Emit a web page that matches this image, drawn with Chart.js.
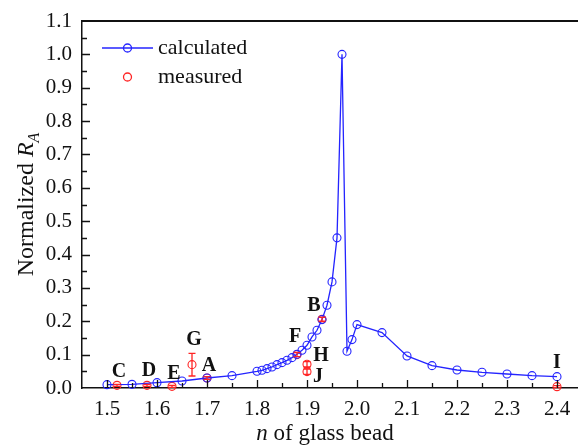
<!DOCTYPE html>
<html>
<head>
<meta charset="utf-8">
<script src="https://cdn.jsdelivr.net/npm/chart.js@4/dist/chart.umd.min.js"></script>
<style>
  html, body { margin: 0; padding: 0; background: #fff; overflow: hidden; }
  #wrap { width: 600px; height: 446px; }
</style>
</head>
<body>
<div id="wrap"><canvas id="chart" width="600" height="446"></canvas></div>
<script>
// calculated curve: refractive index of bead vs normalized R_A
const CALC_N = [1.50, 1.55, 1.60, 1.65, 1.70, 1.75, 1.80, 1.81, 1.82, 1.83, 1.84, 1.85,
                1.86, 1.87, 1.88, 1.89, 1.90, 1.91, 1.92, 1.93, 1.94, 1.95, 1.96, 1.97,
                1.98, 1.99, 2.00, 2.05, 2.10, 2.15, 2.20, 2.25, 2.30, 2.35, 2.40];
const CALC_RA = [0.010, 0.011, 0.016, 0.021, 0.030, 0.037, 0.050, 0.053, 0.058, 0.063, 0.070, 0.076,
                 0.083, 0.091, 0.101, 0.113, 0.128, 0.153, 0.173, 0.205, 0.248, 0.318, 0.450, 1.000,
                 0.110, 0.145, 0.190, 0.166, 0.096, 0.067, 0.054, 0.047, 0.042, 0.037, 0.034];

// measured samples with their error half-widths
const MEAS_LABELS = ["C", "D", "E", "G", "A", "F", "B", "H", "J", "I"];
const MEAS_N   = [1.52, 1.58, 1.63, 1.67, 1.70, 1.88, 1.93, 1.90, 1.90, 2.40];
const MEAS_RA  = [0.008, 0.008, 0.005, 0.070, 0.030, 0.100, 0.206, 0.071, 0.049, 0.004];
const MEAS_ERR = [0.003, 0.003, 0.003, 0.034, 0.004, 0.006, 0.006, 0.008, 0.008, 0.003];

const X_TICKS = [1.5, 1.6, 1.7, 1.8, 1.9, 2.0, 2.1, 2.2, 2.3, 2.4];
const Y_TICKS = [0, 0.1, 0.2, 0.3, 0.4, 0.5, 0.6, 0.7, 0.8, 0.9, 1.0, 1.1];

const BLUE = "#2424ff";
const RED = "#ff2424";
const INK = "#111111";
const SERIF = "'Liberation Serif', 'Times New Roman', serif";

// pixel nudges for the letter tags, relative to each measured point
const TAG_OFFSET = {
  C: [2, -14], D: [2, -15], E: [2, -13], G: [2, -25], A: [2, -12],
  F: [-2, -18], B: [-8, -13], H: [14, -8], J: [11, 5], I: [0, -24]
};

const decor = {
  id: "decor",
  afterDatasetsDraw(chart) {
    const ctx = chart.ctx, xs = chart.scales.x, ys = chart.scales.y;
    ctx.save();
    ctx.strokeStyle = RED;
    ctx.lineWidth = 1.3;
    MEAS_N.forEach(function (n, i) {
      const px = xs.getPixelForValue(n);
      const top = ys.getPixelForValue(MEAS_RA[i] + MEAS_ERR[i]);
      const bot = ys.getPixelForValue(MEAS_RA[i] - MEAS_ERR[i]);
      ctx.beginPath();
      ctx.moveTo(px, top); ctx.lineTo(px, bot);
      ctx.moveTo(px - 3.5, top); ctx.lineTo(px + 3.5, top);
      ctx.moveTo(px - 3.5, bot); ctx.lineTo(px + 3.5, bot);
      ctx.stroke();
    });
    ctx.restore();
  },
  afterDraw(chart) {
    const ctx = chart.ctx, xs = chart.scales.x, ys = chart.scales.y;
    const a = chart.chartArea;
    ctx.save();

    // frame: top border and inward tick marks
    ctx.strokeStyle = INK;
    ctx.lineWidth = 2;
    ctx.beginPath();
    ctx.moveTo(a.left, a.top); ctx.lineTo(a.right + 20, a.top);
    ctx.stroke();
    ctx.lineWidth = 1.3;
    ctx.beginPath();
    X_TICKS.forEach(function (v) {
      const px = Math.round(xs.getPixelForValue(v)) + 0.5;
      ctx.moveTo(px, a.bottom); ctx.lineTo(px, a.bottom - 8);
      const pm = Math.round(xs.getPixelForValue(v + 0.05)) + 0.5;
      ctx.moveTo(pm, a.bottom); ctx.lineTo(pm, a.bottom - 5);
    });
    Y_TICKS.forEach(function (v, i) {
      const py = Math.round(ys.getPixelForValue(v)) + 0.5;
      if (i > 0 && i < Y_TICKS.length - 1) { ctx.moveTo(a.left, py); ctx.lineTo(a.left + 8, py); }
      if (i < Y_TICKS.length - 1) {
        const pm = Math.round(ys.getPixelForValue(v + 0.05)) + 0.5;
        ctx.moveTo(a.left, pm); ctx.lineTo(a.left + 5, pm);
      }
    });
    ctx.stroke();

    // letter tags on the measured samples
    ctx.fillStyle = INK;
    ctx.font = "bold 20px " + SERIF;
    ctx.textAlign = "center";
    ctx.textBaseline = "middle";
    MEAS_LABELS.forEach(function (t, i) {
      const o = TAG_OFFSET[t];
      ctx.fillText(t, xs.getPixelForValue(MEAS_N[i]) + o[0], ys.getPixelForValue(MEAS_RA[i]) + o[1]);
    });

    // legend
    ctx.lineWidth = 1.3;
    ctx.strokeStyle = BLUE;
    ctx.beginPath();
    ctx.moveTo(102, 48); ctx.lineTo(153, 48);
    ctx.stroke();
    ctx.beginPath(); ctx.arc(127.5, 48, 4, 0, Math.PI * 2); ctx.stroke();
    ctx.strokeStyle = RED;
    ctx.beginPath(); ctx.arc(127.5, 77, 4, 0, Math.PI * 2); ctx.stroke();
    ctx.font = "22px " + SERIF;
    ctx.textAlign = "left";
    ctx.fillText(chart.data.datasets[0].label, 158, 48);
    ctx.fillText(chart.data.datasets[1].label, 158, 77);

    // x title: italic n
    const rest = " of glass bead";
    ctx.font = "italic 23px " + SERIF;
    const wn = ctx.measureText("n").width;
    ctx.font = "23px " + SERIF;
    const wr = ctx.measureText(rest).width;
    const x0 = 325 - (wn + wr) / 2;
    ctx.font = "italic 23px " + SERIF;
    ctx.fillText("n", x0, 434);
    ctx.font = "23px " + SERIF;
    ctx.fillText(rest, x0 + wn, 434);

    // y title: Normalized R_A, rotated
    ctx.translate(27, (a.top + a.bottom) / 2);
    ctx.rotate(-Math.PI / 2);
    ctx.font = "24px " + SERIF;
    const w1 = ctx.measureText("Normalized ").width;
    ctx.font = "italic 24px " + SERIF;
    const w2 = ctx.measureText("R").width;
    ctx.font = "italic 16px " + SERIF;
    const w3 = ctx.measureText("A").width;
    const s = -(w1 + w2 + w3) / 2;
    ctx.font = "24px " + SERIF;
    ctx.fillText("Normalized ", s, 0);
    ctx.font = "italic 24px " + SERIF;
    ctx.fillText("R", s + w1, 0);
    ctx.font = "italic 16px " + SERIF;
    ctx.fillText("A", s + w1 + w2, 8);
    ctx.restore();
  }
};

const tickFont = { family: SERIF, size: 21 };

new Chart(document.getElementById("chart"), {
  type: "scatter",
  data: {
    datasets: [
      {
        label: "calculated",
        data: CALC_N.map(function (n, i) { return { x: n, y: CALC_RA[i] }; }),
        showLine: true,
        borderColor: BLUE,
        borderWidth: 1.3,
        pointStyle: "circle",
        pointRadius: 4,
        pointBorderWidth: 1.1,
        pointBorderColor: BLUE,
        pointBackgroundColor: "rgba(0,0,0,0)",
        tension: 0,
        clip: false
      },
      {
        label: "measured",
        data: MEAS_N.map(function (n, i) { return { x: n, y: MEAS_RA[i] }; }),
        showLine: false,
        pointStyle: "circle",
        pointRadius: 4,
        pointBorderWidth: 1.1,
        pointBorderColor: RED,
        pointBackgroundColor: "rgba(0,0,0,0)",
        clip: false
      }
    ]
  },
  options: {
    responsive: false,
    devicePixelRatio: 1,
    animation: false,
    layout: { padding: { top: 21, right: 18, left: 0, bottom: 0 } },
    plugins: { legend: { display: false }, tooltip: { enabled: false } },
    scales: {
      x: {
        type: "linear", min: 1.45, max: 2.45,
        afterBuildTicks: function (s) { s.ticks = X_TICKS.map(function (v) { return { value: v }; }); },
        afterFit: function (s) { s.height = 58; },
        ticks: { font: tickFont, color: INK, padding: 1, maxRotation: 0, autoSkip: false,
                 callback: function (v) { return v.toFixed(1); } },
        grid: { display: false },
        border: { display: true, color: INK, width: 1.5 }
      },
      y: {
        type: "linear", min: 0, max: 1.1,
        afterBuildTicks: function (s) { s.ticks = Y_TICKS.map(function (v) { return { value: v }; }); },
        afterFit: function (s) { s.width = 82; },
        ticks: { font: tickFont, color: INK, padding: 2, autoSkip: false,
                 callback: function (v) { return v.toFixed(1); } },
        grid: { display: false },
        border: { display: true, color: INK, width: 1.5 }
      }
    }
  },
  plugins: [decor]
});
</script>
</body>
</html>
